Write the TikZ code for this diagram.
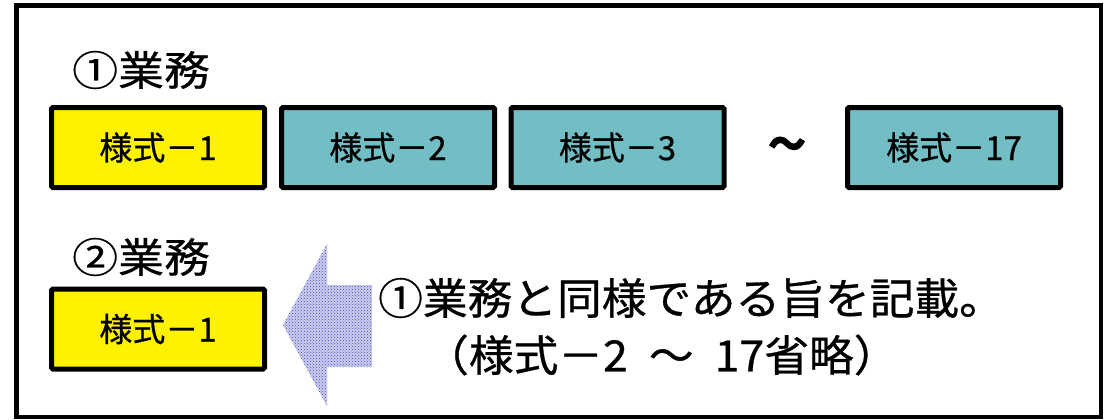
\documentclass[tikz,border=0pt]{standalone}
\usepackage{fontspec}
\newfontfamily\jp[FakeBold=0.6]{Noto Sans CJK JP}
\newfontfamily\jpwide[FakeStretch=1.04,FakeBold=0.7]{Noto Sans CJK JP}
\newfontfamily\jphead[FakeStretch=1.12,FakeBold=0.6]{Noto Sans CJK JP}
\newfontfamily\jptilde[FakeBold=9,FakeStretch=0.9]{Noto Sans CJK JP}
\usetikzlibrary{patterns}
\definecolor{tealbox}{RGB}{114,190,196}
\definecolor{arrowblue}{RGB}{70,70,190}
\definecolor{arrowbg}{RGB}{205,205,238}
\tikzset{
  formbox/.style={draw=black, line width=5pt, rounded corners=1.5pt,
    minimum width=213pt, minimum height=80pt, inner sep=0pt,
    font=\jp\fontsize{33}{36}\selectfont},
  yellowbox/.style={formbox, fill=yellow},
  tealboxstyle/.style={formbox, fill=tealbox},
  headlabel/.style={inner sep=0pt, anchor=west, font=\jphead\fontsize{41}{46}\selectfont},
  bigtext/.style={inner sep=0pt, anchor=west, font=\jpwide\fontsize{43}{48}\selectfont},
}
\begin{document}
\begin{tikzpicture}[x=1pt, y=-1pt]
\useasboundingbox (0,0) rectangle (1108,420);
\draw[line width=4.5pt, fill=white] (16.5,5.5) rectangle (1101,417);
\node[headlabel] (h1) at (72,70) {①業務};
\node[yellowbox] (b1) at (158,147.5) {様式－1};
\node[tealboxstyle] (b2) at (388,147.5) {様式－2};
\node[tealboxstyle] (b3) at (617.5,147.5) {様式－3};
\node[inner sep=0pt, font=\jptilde\fontsize{38}{40}\selectfont] (tl) at (787,148) {～};
\node[tealboxstyle] (b17) at (954,147.5) {様式－17};
\node[headlabel] (h2) at (72,257) {②業務};
\node[yellowbox] (c1) at (158,329) {様式－1};
\path[preaction={fill=arrowbg}, pattern=crosshatch dots, pattern color=arrowblue]
  (283,325) -- (327,244) -- (327,285) -- (372,285) -- (372,367)
  -- (327,367) -- (327,406) -- cycle;
\node[bigtext] (t1) at (378,298) {①業務と同様である旨を記載。};
\node[bigtext] (t2) at (424,355) {（様式－2\hspace{11pt} ～\hspace{11pt} 17省略）};
\end{tikzpicture}
\end{document}
